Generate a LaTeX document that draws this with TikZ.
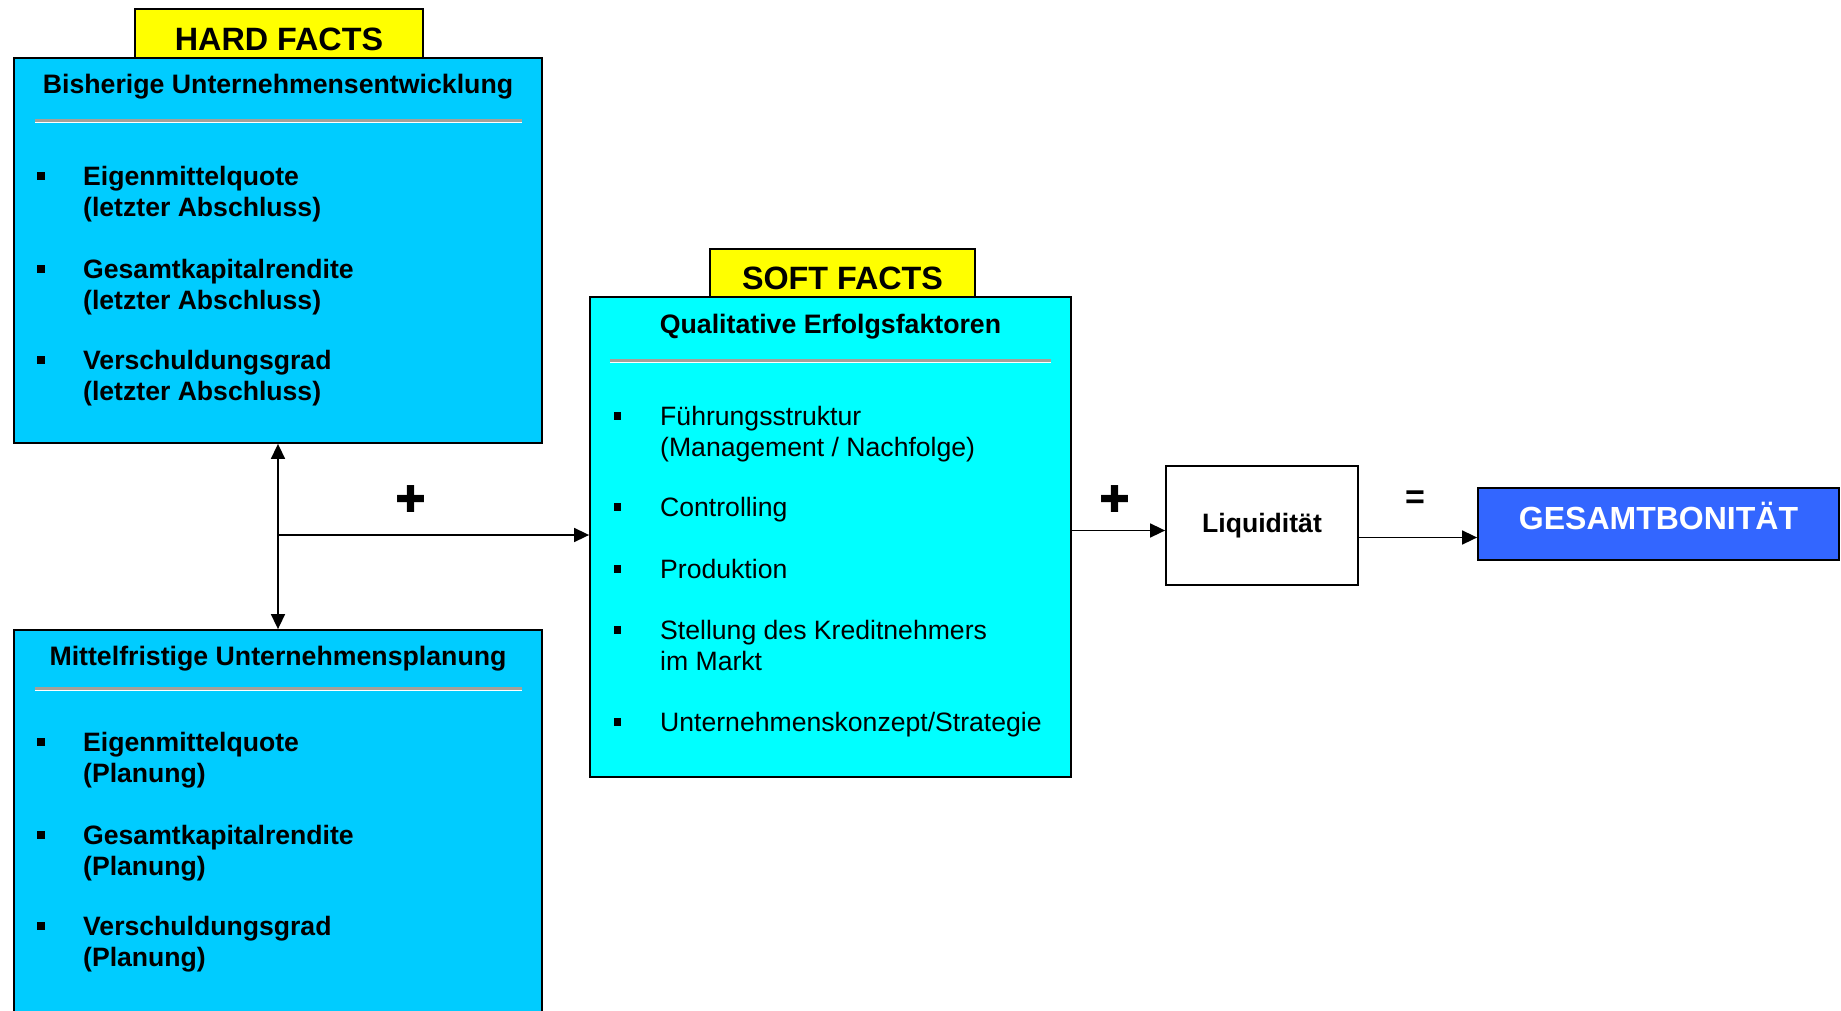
\documentclass[tikz,border=0pt]{standalone}
\usepackage{fontspec}
\setmainfont{Liberation Sans}
\newfontfamily\symfont{DejaVu Sans}
\usetikzlibrary{arrows.meta}
\definecolor{hardblue}{RGB}{0,204,255}
\definecolor{softcyan}{RGB}{0,255,255}
\definecolor{tabyellow}{RGB}{255,255,0}
\definecolor{totalblue}{RGB}{51,102,255}
\definecolor{sepgray}{RGB}{165,160,152}
\begin{document}
\begin{tikzpicture}[x=1pt, y=-1pt,
        box/.style={rectangle, draw=black, line width=1.8pt, inner sep=0pt},
        hardbox/.style={box, fill=hardblue},
        softbox/.style={box, fill=softcyan},
        tab/.style={box, fill=tabyellow, font=\fontsize{32.3}{36}\selectfont\bfseries},
        title/.style={anchor=base, inner sep=0pt, font=\fontsize{26.7}{31}\selectfont\bfseries},
        item/.style={anchor=north west, inner sep=0pt, align=left, font=\fontsize{26.6}{31}\selectfont\bfseries},
        softitem/.style={item, font=\fontsize{26.6}{31}\selectfont},
        bullet/.style={rectangle, fill=black, inner sep=0pt, minimum size=7.5pt},
        sepline/.style={line width=3pt, draw=sepgray},
        sign/.style={inner sep=0pt, font=\fontsize{34}{38}\selectfont\bfseries},
        plussign/.style={inner sep=0pt, font=\fontsize{37}{40}\selectfont\symfont},
        link/.style={line width=1.6pt, -{Triangle[length=15pt,width=14pt]}},
      ]
      \clip (0,0) rectangle (1841,1011);
      \fill[white] (0,0) rectangle (1841,1011);

      %Boxes
      \node[tab, minimum width=288, minimum height=49] (hardtab) at (279,33.5) {};
      \node[hardbox, minimum width=528, minimum height=385] (hist) at (278,250.5) {};
      \node[hardbox, minimum width=528, minimum height=410] (plan) at (278,835) {};
      \node[tab, minimum width=265, minimum height=48] (softtab) at (842.5,273) {};
      \node[softbox, minimum width=481, minimum height=480] (soft) at (830.5,537) {};
      \node[box, fill=white, minimum width=192, minimum height=119,
            font=\fontsize{26.6}{31}\selectfont\bfseries] (liq) at (1262,525.5) {Liquidität};
      \node[box, fill=totalblue, minimum width=361, minimum height=72] (total) at (1658.5,524) {};

      %Headings
      \node[tab, draw=none, fill=none, anchor=base] (hardlbl) at (279,50.5) {HARD FACTS};
      \node[tab, draw=none, fill=none, anchor=base] (softlbl) at (842.5,289.5) {SOFT FACTS};
      \node[title] (histttl) at (278,94) {Bisherige Unternehmensentwicklung};
      \node[title] (planttl) at (278,665) {Mittelfristige Unternehmensplanung};
      \node[title] (softttl) at (830.5,333) {Qualitative Erfolgsfaktoren};
      \node[anchor=base, inner sep=0pt, text=white,
            font=\fontsize{32}{36}\selectfont\bfseries] (totallbl) at (1658.5,529) {GESAMTBONITÄT};

      %Separators
      \draw[sepline] (35,121) -- (522,121);
      \draw[white, line width=1pt] (35,123) -- (522,123);
      \draw[sepline] (35,688) -- (522,688);
      \draw[white, line width=1pt] (35,690) -- (522,690);
      \draw[sepline] (610,360) -- (1051,360);
      \draw[white, line width=1pt] (610,362) -- (1051,362);

      %Items
      \node[item] (hist1) at (83,166) {Eigenmittelquote\\(letzter Abschluss)};
      \node[item] (hist2) at (83,259) {Gesamtkapitalrendite\\(letzter Abschluss)};
      \node[item] (hist3) at (83,350) {Verschuldungsgrad\\(letzter Abschluss)};

      \node[item] (plan1) at (83,732) {Eigenmittelquote\\(Planung)};
      \node[item] (plan2) at (83,825) {Gesamtkapitalrendite\\(Planung)};
      \node[item] (plan3) at (83,916) {Verschuldungsgrad\\(Planung)};

      \node[softitem] (soft1) at (660,406) {Führungsstruktur\\(Management / Nachfolge)};
      \node[softitem] (soft2) at (660,497) {Controlling};
      \node[softitem] (soft3) at (660,559) {Produktion};
      \node[softitem] (soft4) at (660,620) {Stellung des Kreditnehmers\\im Markt};
      \node[softitem] (soft5) at (660,712) {Unternehmenskonzept/Strategie};

      \foreach \y in {176,269,360,742,835,926}
        \node[bullet] (hb\y) at (41,\y) {};
      \foreach \y in {416,507,569,630,722}
        \node[bullet] (sb\y) at (617.5,\y) {};

      %Signs
      \node[plussign] (plus1) at (411,499) {✚};
      \node[plussign] (plus2) at (1115,499) {✚};
      \node[sign] (equal) at (1415,500) {=};

      %Lines
      \coordinate (split) at (278,535);
      \draw[link, {Triangle[length=15pt,width=14pt]}-{Triangle[length=15pt,width=14pt]}] (hist.south) -- (plan.north);
      \draw[link] (split) -- (split -| soft.west);
      \draw[link] ([yshift=-5pt]liq.west -| soft.east) -- ([yshift=-5pt]liq.west);
      \draw[link] ([yshift=-12pt]liq.east) -- ([yshift=-12pt]liq.east -| total.west);
    \end{tikzpicture}
\end{document}
